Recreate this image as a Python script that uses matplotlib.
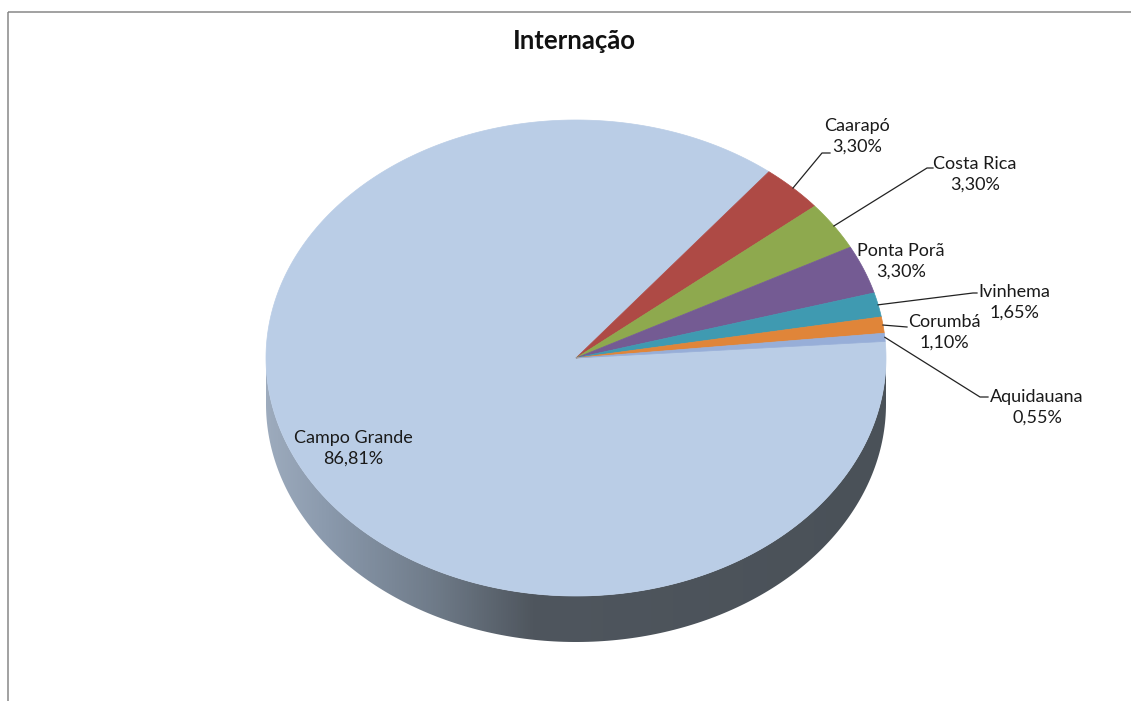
import numpy as np
import matplotlib
matplotlib.use("Agg")
import matplotlib.pyplot as plt
from matplotlib.patches import Polygon, Rectangle
from matplotlib.colors import LinearSegmentedColormap

# dados
cidades = ["Campo Grande", "Caarapó", "Costa Rica", "Ponta Porã", "Ivinhema", "Corumbá", "Aquidauana"]
percentuais = [86.81, 3.30, 3.30, 3.30, 1.65, 1.10, 0.55]
cores = ["#BACDE6", "#AE4A45", "#8EA94E", "#745B93", "#3F9AB1", "#E08539", "#97AED8"]
titulo = "Internação"

plt.rcParams['font.family'] = ['Lato', 'DejaVu Sans']

fig = plt.figure(figsize=(11.31, 7.01), dpi=100)
ax = fig.add_axes([0, 0, 1, 1])
ax.set_xlim(0, 1131)
ax.set_ylim(701, 0)
ax.axis("off")

# geometria da pizza (pixels)
cx, cy = 576, 358
rx, ry = 310, 238
prof = 46
inicio = 4.0

def borda(t):
    t = np.radians(t)
    return cx + rx * np.cos(t), cy - ry * np.sin(t)

# lateral (frente) com gradiente
ts = np.linspace(180, 360, 200)
xs, ys = borda(ts)
lado = np.concatenate([np.column_stack([xs, ys]), np.column_stack([xs, ys + prof])[::-1]])
patch_lado = Polygon(lado, closed=True, facecolor="none", edgecolor="none")
ax.add_patch(patch_lado)
cmap = LinearSegmentedColormap.from_list("lado", [
    (0.0, "#9dabbd"), (0.1, "#8a99ac"), (0.27, "#6f7b89"), (0.43, "#4f565e"), (1.0, "#4a5158")])
grad = np.linspace(0, 1, 512)[None, :]
im = ax.imshow(grad, cmap=cmap, extent=(cx - rx, cx + rx, cy + ry + prof + 2, cy - 2),
               aspect="auto", zorder=1)
im.set_clip_path(patch_lado)
ax.set_xlim(0, 1131)
ax.set_ylim(701, 0)

# topo
total = sum(percentuais)
ang = inicio
meios = []
for nome, v, cor in zip(cidades, percentuais, cores):
    a1 = ang
    a2 = ang - v / total * 360
    tt = np.linspace(a1, a2, max(int(abs(a2 - a1)) * 2, 8))
    px, py = borda(tt)
    pts = np.vstack([[cx, cy], np.column_stack([px, py])])
    ax.add_patch(Polygon(pts, closed=True, facecolor=cor, edgecolor=cor, lw=0.5, zorder=2))
    meios.append((a1 + a2) / 2)
    ang = a2

# rótulos
fs = 13
esp = 1.38
cor_txt = "#1a1a1a"
ax.text(353, 448, "Campo Grande\n86,81%", ha="center", va="center", fontsize=fs,
        color=cor_txt, linespacing=esp, zorder=5)

rotulos = {
    "Caarapó": ((857, 136), [(822, 153), (830, 153)]),
    "Costa Rica": ((975, 174), [(927, 168), (933, 168)]),
    "Ponta Porã": ((901, 261), None),
    "Ivinhema": ((1014, 302), [(973, 293), (977, 293)]),
    "Corumbá": ((944, 332), [(907, 327)]),
    "Aquidauana": ((1037, 407), [(980, 397), (988, 397)]),
}
for i, nome in enumerate(cidades[1:], start=1):
    (tx, ty), linha = rotulos[nome]
    ax.text(tx, ty, "%s\n%s%%" % (nome, ("%.2f" % percentuais[i]).replace(".", ",")),
            ha="center", va="center", fontsize=fs, color=cor_txt, linespacing=esp, zorder=5)
    if linha:
        x0, y0 = borda(meios[i])
        lx = [x0] + [p[0] for p in linha]
        ly = [y0] + [p[1] for p in linha]
        ax.plot(lx, ly, color="#222222", lw=0.9, zorder=4)

ax.text(574, 41, titulo, ha="center", va="center", fontsize=18.5, fontweight="bold", color="#111111")

# moldura
ax.add_patch(Rectangle((8, 12), 1200, 800, facecolor="none", edgecolor="#888888", lw=1.1, zorder=6))

fig.savefig("out.png", dpi=100)
